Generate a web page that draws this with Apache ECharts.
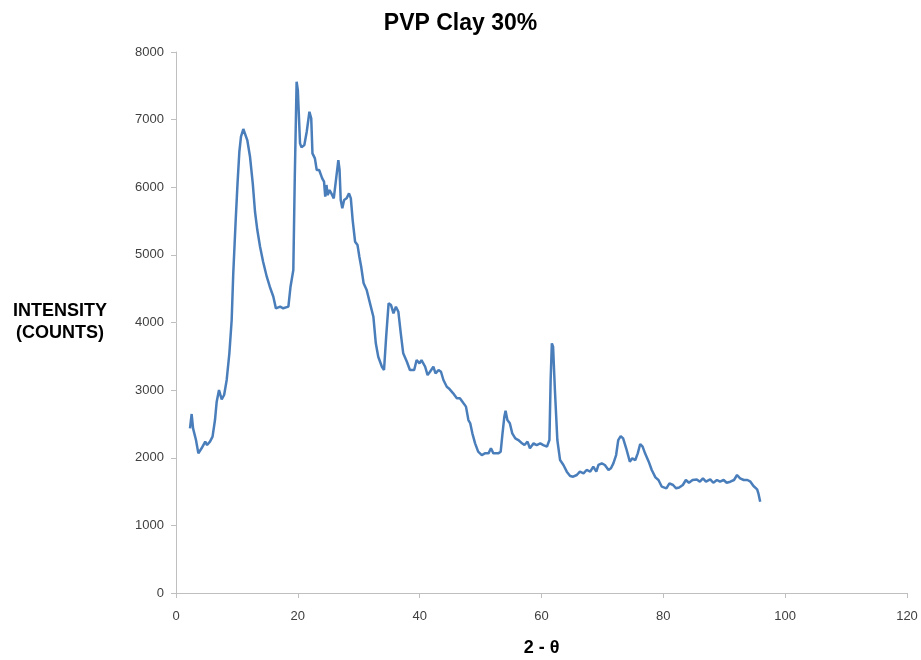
<!DOCTYPE html>
<html>
<head>
<meta charset="utf-8">
<script src="https://cdn.jsdelivr.net/npm/echarts@6/dist/echarts.min.js"></script>
<style>
  html, body { margin: 0; padding: 0; background: #fff; }
  #chart { width: 921px; height: 660px; }
</style>
</head>
<body>
<div id="chart"></div>
<script>
  // 2-theta positions and intensity counts
  var twoTheta = [
    2.3, 2.57, 2.8, 3.28, 3.67, 4.2, 4.5, 4.8, 5.1, 5.58, 6.0, 6.4, 6.68, 7.06, 7.5, 7.9,
    8.32, 8.76, 9.14, 9.4, 9.8, 10.1, 10.4, 10.67, 11.05, 11.3, 11.7, 12.15, 12.6, 12.97,
    13.35, 13.8, 14.3, 14.9, 15.4, 15.98, 16.4, 17.1, 17.6, 18.45, 18.8, 19.26, 19.5, 19.8,
    20.0, 20.36, 20.6, 21.07, 21.46, 21.9, 22.2, 22.4, 22.8, 23.1, 23.5, 23.75, 24.0, 24.3,
    24.5, 24.7, 24.9, 25.2, 25.5, 25.9, 26.2, 26.65, 26.85, 27.04, 27.3, 27.6, 28.0, 28.4,
    28.7, 29.0, 29.4, 29.8, 30.1, 30.4, 30.8, 31.3, 31.85, 32.4, 32.8, 33.2, 33.8, 34.15,
    34.5, 34.9, 35.3, 35.7, 36.1, 36.5, 36.9, 37.3, 37.9, 38.4, 39.1, 39.5, 39.97, 40.3,
    40.9, 41.3, 41.7, 42.25, 42.6, 43.1, 43.5, 43.9, 44.45, 44.8, 45.5, 46.1, 46.6, 47.2,
    47.6, 48.0, 48.3, 48.65, 49.1, 49.6, 50.2, 50.7, 51.3, 51.7, 52.1, 52.4, 52.9, 53.3,
    53.6, 53.9, 54.1, 54.4, 54.8, 55.2, 55.7, 56.2, 56.8, 57.2, 57.7, 58.1, 58.7, 59.2,
    59.8, 60.3, 60.9, 61.3, 61.5, 61.7, 61.9, 62.2, 62.6, 63.05, 63.6, 64.15, 64.7, 65.2,
    65.8, 66.3, 66.9, 67.4, 68.0, 68.5, 69.0, 69.35, 69.9, 70.4, 71.0, 71.4, 71.8, 72.25,
    72.6, 73.0, 73.4, 73.9, 74.2, 74.5, 74.9, 75.4, 75.8, 76.2, 76.6, 77.0, 77.6, 78.1,
    78.7, 79.2, 79.75, 80.5, 81.0, 81.6, 82.1, 82.6, 83.2, 83.7, 84.2, 84.8, 85.5, 86.0,
    86.5, 87.0, 87.7, 88.2, 88.8, 89.3, 89.9, 90.4, 91.0, 91.6, 92.1, 92.6, 93.2, 93.8,
    94.3, 94.8, 95.4, 95.6, 95.9
  ];
  var intensity = [
    2435, 2647, 2435, 2262, 2065, 2140, 2115, 2238, 2188, 2238, 2312, 2558, 2829, 3002, 2864, 2928,
    3150, 3544, 4037, 4727, 5515, 6058, 6525, 6747, 6861, 6846, 6698, 6451, 6058, 5638,
    5367, 5120, 4899, 4677, 4529, 4381, 4209, 4234, 4210, 4234, 4529, 4776, 6156, 7560,
    7436, 6649, 6590, 6624, 6821, 7117, 7018, 6501, 6427, 6255, 6255, 6280, 6132, 6082,
    5860, 6033, 5885, 5959, 5909, 5836, 5860, 6402, 6255, 5811, 5688, 5811, 5836, 5909,
    5836, 5515, 5194, 5145, 4973, 4825, 4579, 4480, 4283, 4086, 3692, 3494, 3346, 3297,
    3790, 4283, 4258, 4136, 4234, 4160, 3840, 3544, 3420, 3297, 3297, 3445, 3396, 3445,
    3346, 3223, 3272, 3346, 3247, 3297, 3272, 3150, 3050, 3025, 2953, 2879, 2879, 2805,
    2756, 2558, 2510, 2361, 2213, 2090, 2040, 2065, 2065, 2140, 2065, 2040, 2065, 2090,
    2361, 2607, 2696, 2558, 2510, 2361, 2287, 2262, 2213, 2188, 2238, 2140, 2213, 2188,
    2213, 2188, 2164, 2262, 3150, 3692, 3643, 3002, 2262, 1966, 1893, 1794, 1730, 1720,
    1745, 1794, 1770, 1819, 1794, 1868, 1794, 1893, 1917, 1893, 1819, 1844, 1917, 2040,
    2262, 2321, 2287, 2140, 2115, 1942, 1991, 1966, 2065, 2203, 2164, 2065, 1942, 1819,
    1710, 1671, 1572, 1548, 1622, 1597, 1548, 1560, 1597, 1671, 1630, 1671, 1680, 1646,
    1696, 1646, 1680, 1630, 1671, 1646, 1671, 1630, 1646, 1671, 1745, 1696, 1671, 1671,
    1646, 1582, 1533, 1474, 1350
  ];

  var points = twoTheta.map(function (x, i) { return [x, intensity[i]]; });

  var chart = echarts.init(document.getElementById('chart'));
  var font = 'Liberation Sans, Arial, sans-serif';

  chart.setOption({
    animation: false,
    title: {
      text: 'PVP Clay 30%',
      left: 'center',
      top: 7,
      textStyle: { fontFamily: font, fontSize: 23, fontWeight: 'bold', color: '#000' }
    },
    grid: { left: 176, right: 14, top: 52, bottom: 67, containLabel: false, outerBoundsMode: 'none' },
    xAxis: {
      type: 'value',
      min: 0,
      max: 120,
      interval: 20,
      name: '2 - θ',
      nameLocation: 'middle',
      nameGap: 46,
      nameTextStyle: { fontFamily: font, fontSize: 18, fontWeight: 'bold', color: '#000' },
      axisLine: { show: true, lineStyle: { color: '#bfbfbf', width: 1 } },
      axisTick: { show: true, length: 5, lineStyle: { color: '#bfbfbf' } },
      axisLabel: { fontFamily: font, fontSize: 13, color: '#404040', margin: 17 },
      splitLine: { show: false }
    },
    yAxis: {
      type: 'value',
      min: 0,
      max: 8000,
      interval: 1000,
      name: 'INTENSITY\n(COUNTS)',
      nameLocation: 'middle',
      nameRotate: 0,
      nameGap: 116,
      nameTextStyle: { fontFamily: font, fontSize: 18, fontWeight: 'bold', color: '#000', align: 'center', lineHeight: 22 },
      axisLine: { show: true, lineStyle: { color: '#bfbfbf', width: 1 } },
      axisTick: { show: true, length: 5, lineStyle: { color: '#bfbfbf' } },
      axisLabel: {
        fontFamily: font, fontSize: 13, color: '#404040', margin: 12,
        formatter: function (v) { return String(v); }
      },
      splitLine: { show: false }
    },
    series: [{
      type: 'line',
      data: points,
      showSymbol: false,
      smooth: false,
      lineStyle: { color: '#4a7ebb', width: 2.5 },
      itemStyle: { color: '#4a7ebb' }
    }]
  });
</script>
</body>
</html>
